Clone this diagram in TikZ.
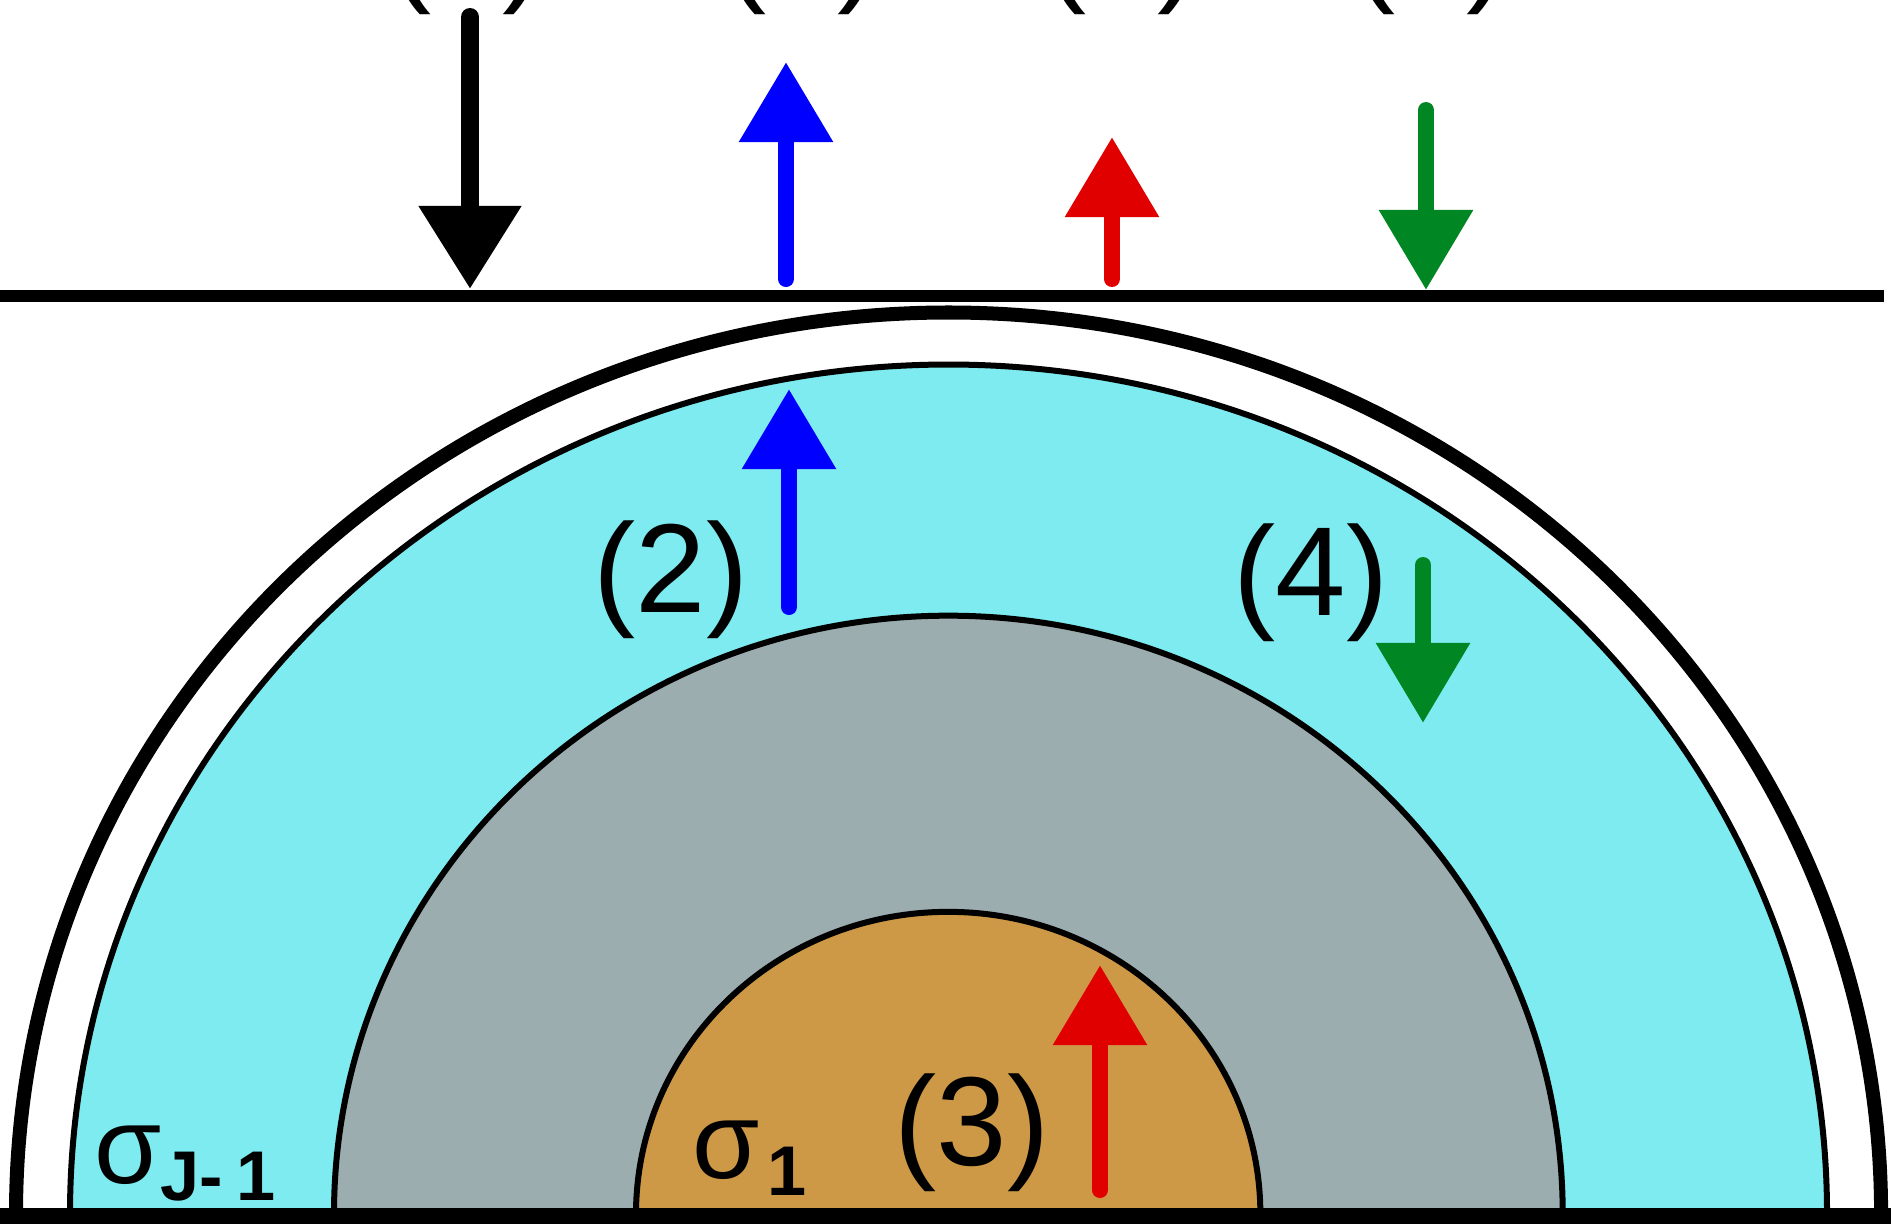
\documentclass[tikz,border=0pt]{standalone}
\usepackage{fontspec}
\setmainfont{Liberation Sans}
\newfontfamily\hv{Liberation Sans}
\usetikzlibrary{arrows.meta}
\definecolor{cyanfill}{RGB}{125,235,240}
\definecolor{grayfill}{RGB}{155,173,175}
\definecolor{orangefill}{RGB}{205,153,70}
\definecolor{fluxblue}{RGB}{0,0,255}
\definecolor{fluxred}{RGB}{225,0,0}
\definecolor{fluxgreen}{RGB}{0,135,35}
\begin{document}
\begin{tikzpicture}[x=0.01cm,y=-0.01cm,
  lbl/.style={inner sep=0pt,anchor=base,font=\hv\fontsize{36}{40}\selectfont},
  sigma/.style={inner sep=0pt,anchor=base,font=\hv\fontsize{31}{34}\selectfont},
  subs/.style={inner sep=0pt,anchor=base,font=\hv\bfseries\fontsize{20}{24}\selectfont},
  layer/.style={line width=0.06cm,draw=black},
  flux/.style={line width=0.16cm,line cap=round,-{Triangle[length=0.8cm,width=0.9cm]}},
  bigflux/.style={line width=0.18cm,line cap=round,-{Triangle[length=0.83cm,width=0.98cm]}}]
\useasboundingbox (0,0) rectangle (1891,1223);
\fill[white] (0,0) rectangle (1891,1223);
\clip (0,0) rectangle (1891,1223);
% layers
\filldraw[layer,fill=cyanfill] (70,1214) arc[start angle=180,end angle=0,x radius=8.78cm,y radius=8.49cm] -- cycle;
\filldraw[layer,fill=grayfill] (334,1214) arc[start angle=180,end angle=0,x radius=6.14cm,y radius=5.98cm] -- cycle;
\filldraw[layer,fill=orangefill] (636,1214) arc[start angle=180,end angle=0,x radius=3.12cm,y radius=3.02cm] -- cycle;
\draw[line width=0.14cm] (16,1214) arc[start angle=180,end angle=0,x radius=9.32cm,y radius=9.01cm];
% surface and base lines
\draw[line width=0.12cm] (0,296) -- (1884,296);
\draw[line width=0.16cm] (0,1216) -- (1891,1216);
% arrow coordinates
\coordinate (k1) at (470,17);   \coordinate (k2) at (470,289);
\coordinate (b1) at (786,279);  \coordinate (b2) at (786,62);
\coordinate (r1) at (1112,279); \coordinate (r2) at (1112,137);
\coordinate (g1) at (1426,110); \coordinate (g2) at (1426,290);
\coordinate (bi1) at (789,607); \coordinate (bi2) at (789,389);
\coordinate (gi1) at (1423,565); \coordinate (gi2) at (1423,723);
\coordinate (ri1) at (1100,1190); \coordinate (ri2) at (1100,965);
\draw[bigflux,black] (k1) -- (k2);
\draw[flux,fluxblue] (b1) -- (b2);
\draw[flux,fluxred] (r1) -- (r2);
\draw[flux,fluxgreen] (g1) -- (g2);
\draw[flux,fluxblue] (bi1) -- (bi2);
\draw[flux,fluxgreen] (gi1) -- (gi2);
\draw[flux,fluxred] (ri1) -- (ri2);
% labels
\node[lbl] (t1) at (467,-12) {(1)};
\node[lbl] (t2) at (802,-12) {(2)};
\node[lbl] (t3) at (1122,-12) {(3)};
\node[lbl] (t4) at (1431,-12) {(4)};
\node[lbl] (l2) at (671,612) {(2)};
\node[lbl] (l4) at (1311,615) {(4)};
\node[lbl] (l3) at (972,1165) {(3)};
\node[sigma] (s1) at (726,1178) {σ};
\node[subs] (s1i) at (787,1195) {1};
\node[sigma] (sj) at (128,1183) {σ};
\node[subs] (sji) at (218,1200) {J-\hspace{0.14cm}1};
\end{tikzpicture}
\end{document}
